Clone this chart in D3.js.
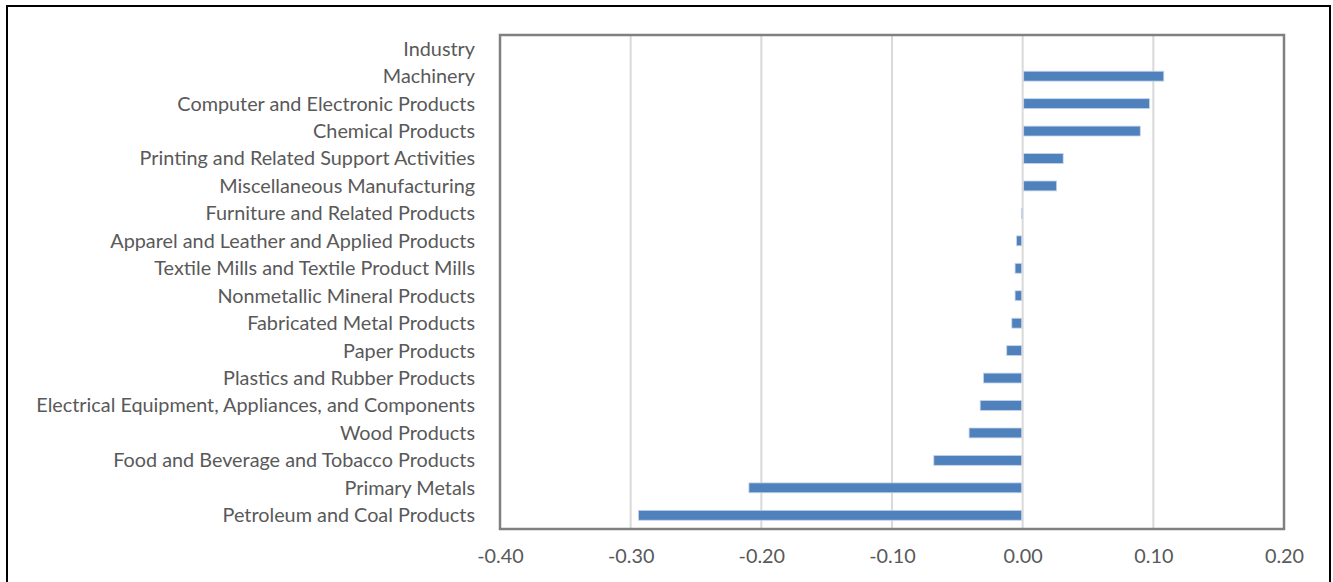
<!DOCTYPE html>
<html><head><meta charset="utf-8">
<script src="https://cdn.jsdelivr.net/npm/d3@7"></script>
<style>body{margin:0;background:#fff;} svg{display:block;}</style>
</head><body>
<svg id="c" width="1333" height="582"></svg>
<script>
const categories = ["Industry","Machinery","Computer and Electronic Products","Chemical Products","Printing and Related Support Activities","Miscellaneous Manufacturing","Furniture and Related Products","Apparel and Leather and Applied Products","Textile Mills and Textile Product Mills","Nonmetallic Mineral Products","Fabricated Metal Products","Paper Products","Plastics and Rubber Products","Electrical Equipment, Appliances, and Components","Wood Products","Food and Beverage and Tobacco Products","Primary Metals","Petroleum and Coal Products"];
const values = [null,0.108,0.097,0.090,0.031,0.026,-0.001,-0.0047,-0.0058,-0.0058,-0.0083,-0.0122,-0.030,-0.0325,-0.041,-0.068,-0.2095,-0.294];
const xTicks = [-0.40,-0.30,-0.20,-0.10,0.00,0.10,0.20];

const svg = d3.select("#c");
const pL = 500, pR = 1284, pT = 35, pB = 529;
const x = d3.scaleLinear().domain([-0.4,0.2]).range([pL,pR]);
const y = d3.scaleBand().domain(categories).range([pT,pB]).paddingInner(0.64).paddingOuter(0.32);
const font = "Lato, 'Open Sans', sans-serif";
const txt = "#595959";

// outer frame
svg.append("rect").attr("x",7).attr("y",6).attr("width",1323).attr("height",590)
  .attr("fill","none").attr("stroke","#000").attr("stroke-width",2);

// gridlines
svg.append("g").selectAll("line").data(xTicks).join("line")
  .attr("x1",d=>x(d)).attr("x2",d=>x(d)).attr("y1",pT).attr("y2",pB)
  .attr("stroke","#d9d9d9").attr("stroke-width",2);

// bars
svg.append("g").selectAll("rect").data(categories.map((c,i)=>({c,v:values[i]})).filter(d=>d.v!==null)).join("rect")
  .attr("x",d=>d.v>=0 ? x(0)+1 : x(d.v)).attr("width",d=>Math.max(0.8,Math.abs(x(d.v)-x(0))-1))
  .attr("y",d=>y(d.c)).attr("height",y.bandwidth())
  .attr("fill","#4f81bd").attr("stroke","#c6d4e8").attr("stroke-width",0.8);

// plot border
svg.append("rect").attr("x",pL).attr("y",pT).attr("width",pR-pL).attr("height",pB-pT)
  .attr("fill","none").attr("stroke","#808080").attr("stroke-width",2.5);

// category labels
const lab = svg.append("g").selectAll("text").data(categories).join("text")
  .attr("x",475).attr("y",d=>y(d)+y.bandwidth()/2).attr("dy","0.35em")
  .attr("text-anchor","end").attr("fill",txt).attr("font-family",font).attr("font-size",16)
  .text(d=>d);
// fit longest label width to ~439px
const longest = lab.filter(d=>d.startsWith("Electrical")).node().getComputedTextLength();
const fs = 16*439/longest;
lab.attr("font-size",fs);

// x axis labels (ASCII hyphen minus as in the reference)
const fmt = d => d3.format(".2f")(d).replace("\u2212","-");
const xa = d3.axisBottom(x).tickValues(xTicks).tickFormat(fmt).tickSize(0).tickPadding(0);
const ga = svg.append("g").attr("transform",`translate(0,${pB})`).call(xa);
ga.select(".domain").remove();
ga.selectAll("text").attr("y",27).attr("dy","0.35em").attr("fill",txt)
  .attr("font-family",font).attr("font-size",fs);
</script>
</body></html>
